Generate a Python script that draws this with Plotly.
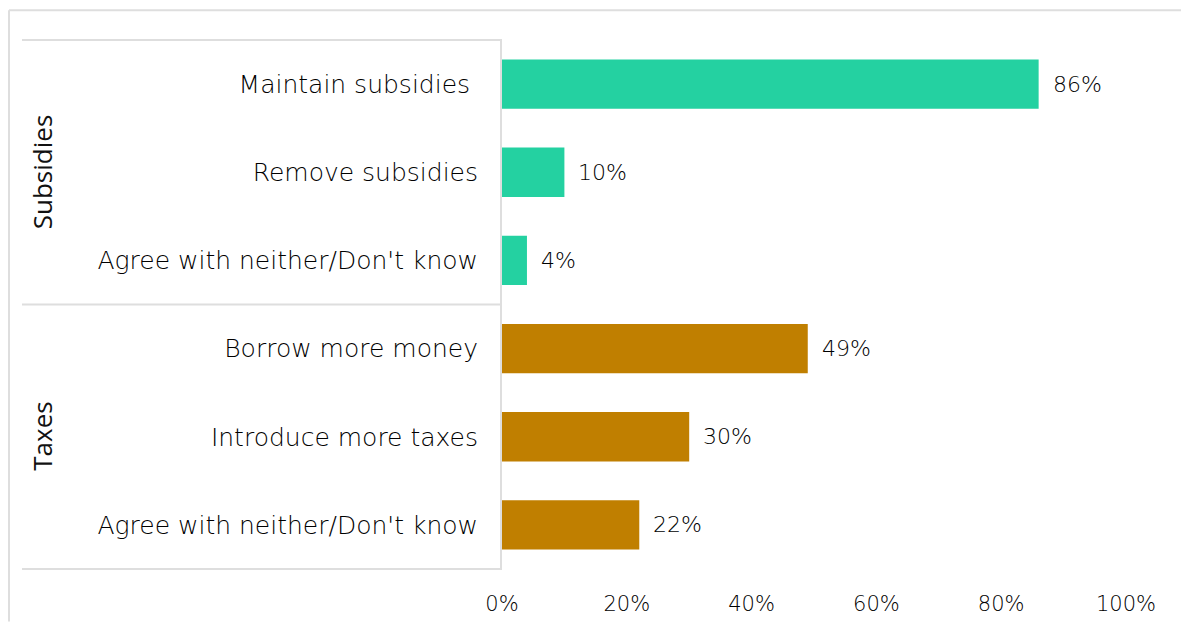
import plotly.graph_objects as go

groups = ["Subsidies", "Subsidies", "Subsidies", "Taxes", "Taxes", "Taxes"]
labels = ["Maintain subsidies ", "Remove subsidies", "Agree with neither/Don't know",
          "Borrow more money", "Introduce more taxes", "Agree with neither/Don't know"]
values = [86, 10, 4, 49, 30, 22]
group_colors = {"Subsidies": "#24D1A1", "Taxes": "#C07F00"}
x_ticks = [0, 20, 40, 60, 80, 100]
x_tick_labels = ["0%", "20%", "40%", "60%", "80%", "100%"]

FONT = "DejaVu Sans"
GFONT = "Open Sans"
TXT = "#000000"
W, H = 1181, 628
L, R, T, B = 502, 55, 40, 53
pw = W - L - R
ph = H - T - B

keys = [f"{g}|{i}" for i, g in enumerate(groups)]

fig = go.Figure()
fig.add_trace(go.Bar(
    x=values, y=keys, orientation="h",
    marker=dict(color=[group_colors[g] for g in groups], line=dict(width=0)),
    width=0.56, hoverinfo="skip",
))

for k, v in zip(keys, values):
    fig.add_annotation(x=v, y=k, text=f"{v}%", showarrow=False, xanchor="left",
                       yanchor="middle", xshift=12,
                       font=dict(family=FONT, size=22, color=TXT, weight=300))

def px2x(px):
    return (px - L) / pw

def px2y(py):
    return 1 - (py - T) / ph

line_col = "#DEDEDE"
# inner label box horizontal lines
for yp in [1.0, 0.5, 0.0]:
    fig.add_shape(type="line", xref="paper", yref="paper", x0=px2x(22), x1=0,
                  y0=yp, y1=yp, line=dict(color=line_col, width=2), layer="above")
# outer frame
fig.add_shape(type="line", xref="paper", yref="paper", x0=px2x(9), x1=px2x(W),
              y0=px2y(10), y1=px2y(10), line=dict(color=line_col, width=2))
fig.add_shape(type="line", xref="paper", yref="paper", x0=px2x(9), x1=px2x(9),
              y0=px2y(H), y1=px2y(10), line=dict(color=line_col, width=2))

# group labels
uniq = []
for g in groups:
    if g not in uniq:
        uniq.append(g)
n = len(groups)
for g in uniq:
    idx = [i for i, gg in enumerate(groups) if gg == g]
    center = 1 - (min(idx) + max(idx) + 1) / 2 / n
    fig.add_annotation(xref="paper", yref="paper", x=px2x(42), y=center, text=g,
                       textangle=-90, showarrow=False, xanchor="center", yanchor="middle",
                       font=dict(family=GFONT, size=26, color="#111111"))

fig.update_layout(
    width=W, height=H,
    margin=dict(l=L, r=R, t=T, b=B),
    paper_bgcolor="white", plot_bgcolor="white",
    showlegend=False, bargap=0.44,
    font=dict(family=FONT, size=22, color=TXT),
)
fig.update_xaxes(range=[0, 100], tickvals=x_ticks, ticktext=x_tick_labels,
                 showgrid=False, zeroline=False, showline=False,
                 ticks="outside", ticklen=16, tickcolor="rgba(0,0,0,0)",
                 tickfont=dict(family=FONT, size=21, color=TXT, weight=300))
fig.update_yaxes(tickvals=keys, ticktext=labels, autorange="reversed",
                 showgrid=False, zeroline=False, showline=True, linecolor=line_col,
                 linewidth=2, ticks="outside", ticklen=17, tickcolor="rgba(0,0,0,0)",
                 tickfont=dict(family=FONT, size=25, color=TXT, weight=300))

fig.write_html("out.html", config={"displayModeBar": False},
               post_script="document.body.style.margin='0';")
